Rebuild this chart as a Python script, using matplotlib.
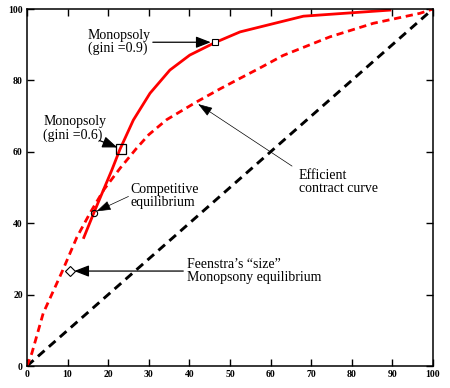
import matplotlib
matplotlib.use('Agg')
import matplotlib.pyplot as plt

# values
diag_x = [0, 100]
diag_y = [0, 100]

eff_x = [0, 1.2, 4, 8.6, 12.3, 15.5, 19, 23, 27, 30, 34.4, 41.8, 47.5, 52.5, 57.4, 63.1, 74.6, 85.3, 96.8, 100]
eff_y = [0, 3.6, 14.8, 26.3, 36.1, 42.8, 49.5, 55.5, 61, 64.8, 69, 74, 77.6, 80.6, 83.5, 87, 92.2, 96, 98.8, 100]

mono_x = [14, 16.5, 20.9, 22.9, 26.2, 30.3, 35.2, 40.1, 46.3, 52.5, 68.1, 89.4]
mono_y = [36, 43, 54.9, 60.7, 68.9, 76.4, 82.9, 87.1, 90.6, 93.6, 98, 99.7]

gini09 = (46.3, 90.7)
gini06 = (23.2, 60.8)
comp_eq = (16.5, 43)
feenstra = (10.6, 26.6)

ticks = [0, 10, 20, 30, 40, 50, 60, 70, 80, 90, 100]
yticks = [0, 20, 40, 60, 80, 100]

plt.rcParams['font.family'] = ['Liberation Serif', 'DejaVu Serif']

fig = plt.figure(figsize=(4.5, 3.88), dpi=100)
ax = fig.add_axes([0.06, 0.0567, 0.902, 0.92])

ax.plot(diag_x, diag_y, color='black', lw=2.1, ls=(0, (3, 2)))
ax.plot(eff_x, eff_y, color='red', lw=2, ls=(0, (2.6, 1.7)))
ax.plot(mono_x, mono_y, color='red', lw=2, label='Monopsoly')

ax.plot(*gini09, marker='s', ms=5, mfc='white', mec='black', mew=0.8)
ax.plot(*gini06, marker='s', ms=7, mfc='none', mec='black', mew=0.9)
ax.plot(*comp_eq, marker='o', ms=4.5, mfc='none', mec='black', mew=0.8)
ax.plot(*feenstra, marker='D', ms=5.5, mfc='white', mec='black', mew=0.8)

arrow_big = dict(arrowstyle='-|>,head_length=0.9,head_width=0.35', color='black', lw=0.9,
                 shrinkA=0, shrinkB=3)
arrow_thin = dict(arrowstyle='-|>,head_length=0.9,head_width=0.3', color='black', lw=0.5,
                  shrinkA=0, shrinkB=2)

ax.text(15, 90.8, 'Monopsoly\n(gini =0.9)', fontsize=10, va='center', ha='left', linespacing=1.0)
ax.annotate('', xy=gini09, xytext=(31, 90.7), arrowprops=arrow_big)

ax.text(4, 66.5, 'Monopsoly\n(gini =0.6)', fontsize=10, va='center', ha='left', linespacing=1.0)
ax.annotate('', xy=gini06, xytext=(17.8, 63.2), arrowprops=arrow_big)

ax.text(25.5, 47.5, 'Competitive\nequilibrium', fontsize=10, va='center', ha='left', linespacing=1.0)
ax.annotate('', xy=comp_eq, xytext=(25, 47.5), arrowprops=arrow_thin)

ax.text(67, 51.5, 'Efficient\ncontract curve', fontsize=10, va='center', ha='left', linespacing=1.0)
ax.annotate('', xy=(41.6, 73.8), xytext=(65.3, 56), arrowprops=arrow_thin)

ax.text(39.5, 26.6, 'Feenstra\u2019s \u201csize\u201d\nMonopsony equilibrium', fontsize=10,
        va='center', ha='left', linespacing=1.0)
ax.annotate('', xy=feenstra, xytext=(38.5, 26.6), arrowprops=arrow_big)

ax.set_xlim(0, 100)
ax.set_ylim(0, 100)
ax.set_xticks(ticks)
ax.set_yticks(yticks)
ax.tick_params(direction='in', top=True, right=True, length=5, width=1,
               labelsize=7, pad=3)
for lab in ax.get_xticklabels() + ax.get_yticklabels():
    lab.set_fontweight('bold')
for sp in ax.spines.values():
    sp.set_linewidth(1.1)

# legend sits below the axes and is cut by the figure edge, as in the original
ax.legend(loc='upper left', bbox_to_anchor=(-0.01, -0.045), frameon=False, fontsize=10,
          handlelength=2, borderaxespad=0)

fig.savefig('out.png', dpi=100)
